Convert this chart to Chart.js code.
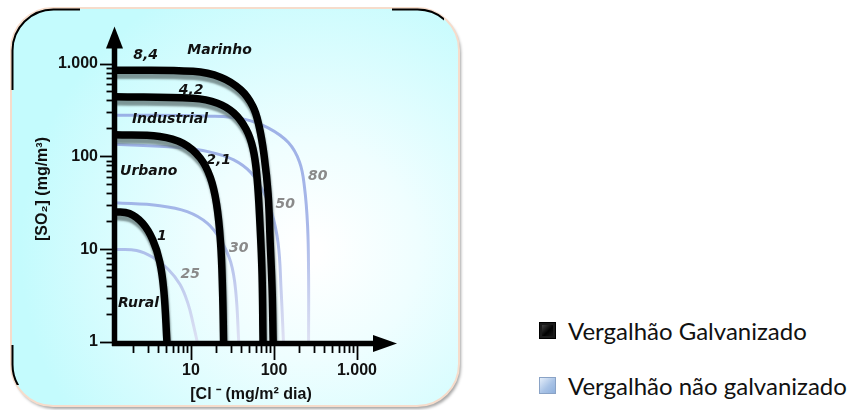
<!DOCTYPE html>
<html>
<head>
<meta charset="utf-8">
<script src="https://cdn.jsdelivr.net/npm/chart.js@4.4.1/dist/chart.umd.min.js"></script>
<style>
	html, body { margin: 0; padding: 0; background: #fff; }
	body { width: 862px; height: 410px; position: relative; overflow: hidden; }
	#chart { position: absolute; left: 0; top: 0; }
	.key { position: absolute; left: 539px; height: 28px; display: flex; align-items: center; font-family: Lato, "Noto Sans", sans-serif; font-size: 24px; color: #111; white-space: nowrap; }
	.sw { width: 17px; height: 17px; margin-right: 12px; box-sizing: border-box; }
	.sw.galv { background: linear-gradient(135deg, #555 0%, #000 55%, #222 100%); border: 1px solid #000; box-shadow: inset 0 0 0 2px #1a1a1a; }
	.sw.plain { background: linear-gradient(135deg, #e4eefa 0%, #a9c3e6 55%, #8fb0dc 100%); border: 1px solid #8aa3c6; }
</style>
</head>
<body>
<canvas id="chart" width="470" height="410"></canvas>
<div class="key" style="top:316px"><span class="sw galv"></span>Vergalhão Galvanizado</div>
<div class="key" style="top:371px"><span class="sw plain"></span>Vergalhão não galvanizado</div>
<script>
"use strict"

// curves, [Cl- (mg/m2 dia), SO2 (mg/m3)]
const galv84 = [[1.2, 849], [10.6, 824], [22.7, 712], [39.8, 520], [55.7, 345], [66, 213], [75.9, 103], [84.9, 39.3], [90, 11.7], [95, 3.51], [97.7, 1]]
const galv42 = [[1.2, 440], [10.6, 422], [20.9, 374], [32.7, 294], [45.8, 198], [55.7, 122], [62.4, 59.2], [67.9, 17.7], [71.8, 5.29], [73.8, 1]]
const galv21 = [[1.2, 171], [4.21, 164], [8.03, 138], [12.9, 96], [17.1, 59.2], [20.3, 30.8], [22.7, 11.7], [24, 3.51], [24.7, 1]]
const galv1 = [[1.2, 25.4], [1.81, 24.2], [2.61, 19], [3.46, 12.6], [4.21, 7.24], [4.71, 3.51], [5.13, 1]]

const plain80 = [[1.2, 278], [17.1, 271], [43.3, 252], [84.9, 203], [149, 141], [203, 87.1], [233, 46.5], [254, 17.7], [261, 5.29], [261, 1]]
const plain50 = [[1.2, 135], [6.79, 125], [17.1, 111], [32.7, 91.5], [52.7, 66.8], [73.8, 42.2], [92.4, 26.1], [112, 11.7], [122, 3.51], [130, 1]]
const plain30 = [[1.2, 31.6], [4.21, 29.4], [8.99, 25.4], [15.8, 19], [22.7, 12.6], [30.1, 7.24], [34.6, 3.51], [37.6, 1]]
const plain25 = [[1.2, 9.92], [2.21, 9.68], [3.46, 8.18], [5.27, 6.12], [7.38, 4.16], [9.24, 2.56], [10.6, 1.58], [11.9, 1]]

// curve numbers and zone names, [text, x, y]
const galvLabels = [["8,4", 2.84, 1211], ["4,2", 10.05, 520], ["2,1", 21.5, 91.5], ["1", 4.45, 13.9]]
const plainLabels = [["80", 336, 60.7], ["50", 137, 30.1], ["30", 37.6, 10.2], ["25", 9.78, 5.29]]
const zoneLabels = [["Marinho", 22.1, 1400], ["Industrial", 5.58, 252], ["Urbano", 3.09, 68.4], ["Rural", 2.33, 2.63]]

const majorTicks = [1, 10, 100, 1000]
const tickText = ["1", "10", "100", "1.000"]

const tickFont = { family: "'Liberation Sans', Arial, sans-serif", size: 16, weight: "bold" }

function pts(arr) {
	return arr.map(([x, y]) => ({ x, y }))
}

function tickLabel(v) {
	const i = majorTicks.indexOf(v)
	return i < 0 ? "" : tickText[i]
}

function roundPath(c, x, y, w, h, r) {
	c.beginPath()
	c.moveTo(x + r, y)
	c.arcTo(x + w, y, x + w, y + h, r)
	c.arcTo(x + w, y + h, x, y + h, r)
	c.arcTo(x, y + h, x, y, r)
	c.arcTo(x, y, x + w, y, r)
	c.closePath()
}

function blueFade(ctx) {
	const area = ctx.chart.chartArea
	if (!area) return "#a3b4e4"
	const g = ctx.chart.ctx.createLinearGradient(0, area.top, 0, area.bottom)
	g.addColorStop(0, "rgba(140,160,225,0.88)")
	g.addColorStop(0.65, "rgba(150,168,228,0.82)")
	g.addColorStop(1, "rgba(218,218,240,0.8)")
	return g
}

// rounded panel behind the plot
const frame = {
	id: "frame",
	beforeDraw(chart) {
		const c = chart.ctx
		c.save()
		c.shadowColor = "rgba(0,0,0,0.35)"
		c.shadowOffsetX = 2
		c.shadowOffsetY = 3
		c.shadowBlur = 3
		roundPath(c, 11, 8, 448, 398, 42)
		const g = c.createRadialGradient(310, 250, 10, 310, 250, 290)
		g.addColorStop(0, "#ffffff")
		g.addColorStop(0.35, "#effeff")
		g.addColorStop(1, "#c4fbfd")
		c.fillStyle = g
		c.fill()
		c.shadowColor = "transparent"
		c.strokeStyle = "#f6dccb"
		c.lineWidth = 2
		c.stroke()
		// dark streaks on the rim
		c.save()
		c.beginPath()
		c.rect(0, 0, 80, 90)
		c.rect(392, 0, 52, 36)
		c.rect(0, 345, 24, 40)
		c.clip()
		roundPath(c, 12.5, 9.5, 446, 396, 41)
		c.strokeStyle = "#000"
		c.lineWidth = 2
		c.stroke()
		c.restore()
		c.restore()
	},
}

// grey shadow under the black curves
const shade = {
	id: "shade",
	beforeDatasetDraw(chart, args) {
		const c = chart.ctx
		c.save()
		if (chart.data.datasets[args.index].shade) {
			c.shadowColor = "rgba(95,115,115,0.75)"
			c.shadowOffsetX = 1
			c.shadowOffsetY = 5
			c.shadowBlur = 2
		}
	},
	afterDatasetDraw(chart) {
		chart.ctx.restore()
	},
}

const curveText = {
	id: "curveText",
	afterDatasetsDraw(chart) {
		const c = chart.ctx
		const xs = chart.scales.x
		const ys = chart.scales.y
		c.save()
		c.font = "italic bold 14px 'DejaVu Sans', Verdana, sans-serif"
		c.textAlign = "center"
		c.textBaseline = "middle"
		const put = (list, color) => {
			c.fillStyle = color
			list.forEach(([t, x, y]) => c.fillText(t, xs.getPixelForValue(x), ys.getPixelForValue(y)))
		}
		put(zoneLabels, "#111")
		put(galvLabels, "#111")
		put(plainLabels, "#8a8a8a")
		c.restore()
	},
}

// thick axes with arrows, tick marks and titles
const axes = {
	id: "axes",
	afterDraw(chart) {
		const c = chart.ctx
		const { left, right, top, bottom } = chart.chartArea
		const xs = chart.scales.x
		const ys = chart.scales.y
		const ax = left - 0.5
		const ay = bottom + 1.5
		c.save()
		c.fillStyle = "#000"
		c.strokeStyle = "#000"
		c.lineWidth = 5.5
		c.beginPath()
		c.moveTo(ax, ay + 2.5)
		c.lineTo(ax, top + 18)
		c.stroke()
		c.beginPath()
		c.moveTo(ax, top)
		c.lineTo(ax - 8.5, top + 22)
		c.lineTo(ax + 8.5, top + 22)
		c.closePath()
		c.fill()
		c.beginPath()
		c.moveTo(ax - 2.5, ay)
		c.lineTo(right - 20, ay)
		c.stroke()
		c.beginPath()
		c.moveTo(right, ay)
		c.lineTo(right - 24, ay - 8.5)
		c.lineTo(right - 24, ay + 8.5)
		c.closePath()
		c.fill()

		c.lineWidth = 1.8
		for (let e = 0; e <= 3; e++) {
			for (let m = 1; m <= 9; m++) {
				const v = m * Math.pow(10, e)
				if (v > 1000) continue
				const major = m === 1
				if (v >= xs.min) {
					const px = Math.round(xs.getPixelForValue(v)) + 0.5
					c.beginPath()
					c.moveTo(px, ay + 2)
					c.lineTo(px, major ? 360 : 353)
					c.stroke()
				}
				const py = Math.round(ys.getPixelForValue(v)) + 0.5
				c.beginPath()
				c.moveTo(major ? 100 : 106.5, py)
				c.lineTo(ax, py)
				c.stroke()
			}
		}

		c.font = "bold 16px 'Liberation Sans', Arial, sans-serif"
		c.textAlign = "center"
		c.textBaseline = "middle"
		c.fillStyle = "#111"
		c.fillText("[Cl ⁻ (mg/m² dia)", 251, 395)
		c.translate(43, 189)
		c.rotate(-Math.PI / 2)
		c.fillText("[SO₂] (mg/m³)", 0, 0)
		c.restore()
	},
}

const black = (data) => ({ data: pts(data), borderColor: "#000", borderWidth: 7.5, shade: true, order: 1 })
const blue = (data) => ({ data: pts(data), borderColor: blueFade, borderWidth: 3, order: 2 })

new Chart(document.getElementById("chart"), {
	type: "line",
	data: {
		datasets: [
			black(galv84),
			black(galv42),
			black(galv21),
			black(galv1),
			blue(plain80),
			blue(plain50),
			blue(plain30),
			blue(plain25),
		],
	},
	options: {
		responsive: false,
		animation: false,
		layout: {
			padding: { left: 0, top: 18, right: 73, bottom: 0 },
		},
		elements: {
			point: { radius: 0 },
			line: { tension: 0.4, capBezierPoints: false, borderCapStyle: "butt" },
		},
		plugins: {
			legend: { display: false },
			tooltip: { enabled: false },
		},
		scales: {
			x: {
				type: "logarithmic",
				min: 1.214,
				max: 3034,
				grid: { display: false, drawTicks: false },
				border: { display: false },
				ticks: { autoSkip: false, maxRotation: 0, padding: 19, color: "#111", font: tickFont, callback: tickLabel },
				afterFit: (s) => {
					s.height = 68
				},
			},
			y: {
				type: "logarithmic",
				min: 1,
				max: 2500,
				grid: { display: false, drawTicks: false },
				border: { display: false },
				ticks: { autoSkip: false, padding: 17, color: "#111", font: tickFont, callback: tickLabel },
				afterFit: (s) => {
					s.width = 115
				},
			},
		},
	},
	plugins: [frame, shade, curveText, axes],
})
</script>
</body>
</html>
